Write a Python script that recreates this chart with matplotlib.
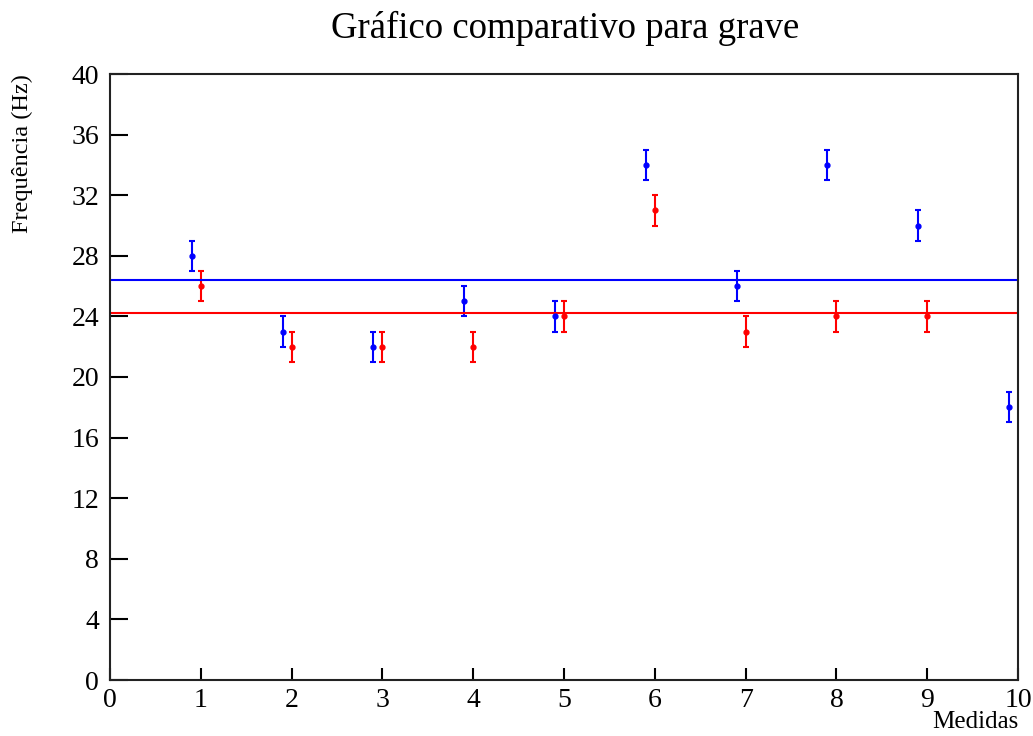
import numpy as np
import matplotlib.pyplot as plt

plt.rcParams['font.family'] = ['Liberation Serif', 'DejaVu Serif']

# medidas (azul deslocado -0.1)
x_blue = [0.9, 1.9, 2.9, 3.9, 4.9, 5.9, 6.9, 7.9, 8.9, 9.9]
y_blue = [28, 23, 22, 25, 24, 34, 26, 34, 30, 18]
x_red = [1, 2, 3, 4, 5, 6, 7, 8, 9]
y_red = [26, 22, 22, 22, 24, 31, 23, 24, 24]
err = 1.0

fig = plt.figure(figsize=(10.33, 7.36), dpi=100)
ax = fig.add_axes([110 / 1033, 1 - 680 / 736, 908 / 1033, 606 / 736])

ax.errorbar(x_blue, y_blue, yerr=err, fmt='o', color='blue', ms=3.5,
            capsize=2.5, elinewidth=1.5, capthick=1.5)
ax.errorbar(x_red, y_red, yerr=err, fmt='o', color='red', ms=3.5,
            capsize=2.5, elinewidth=1.5, capthick=1.5)
ax.axhline(np.mean(y_blue), color='blue', lw=1.5)
ax.axhline(np.mean(y_red), color='red', lw=1.5)

ax.set_xlim(0, 10)
ax.set_ylim(0, 40)
ax.set_xticks(range(0, 11))
ax.set_yticks(range(0, 41, 4))
ax.tick_params(direction='in', width=1.5, labelsize=20, top=False, right=False)
ax.tick_params(axis='y', length=13, pad=8)
ax.tick_params(axis='x', length=9, pad=6)
for s in ax.spines.values():
    s.set_linewidth(1.5)
    s.set_color('#222222')

fig.text(565 / 1033, 1 - 28 / 736, 'Gráfico comparativo para grave', ha='center',
         va='center', fontsize=26.5)
fig.text(22 / 1033, 1 - 74 / 736, 'Frequência (Hz)', rotation=90, ha='center',
         va='top', fontsize=17.5)
fig.text(1018 / 1033, 1 - 722 / 736, 'Medidas', ha='right', va='center',
         fontsize=18)

fig.savefig('out.png', dpi=100)
